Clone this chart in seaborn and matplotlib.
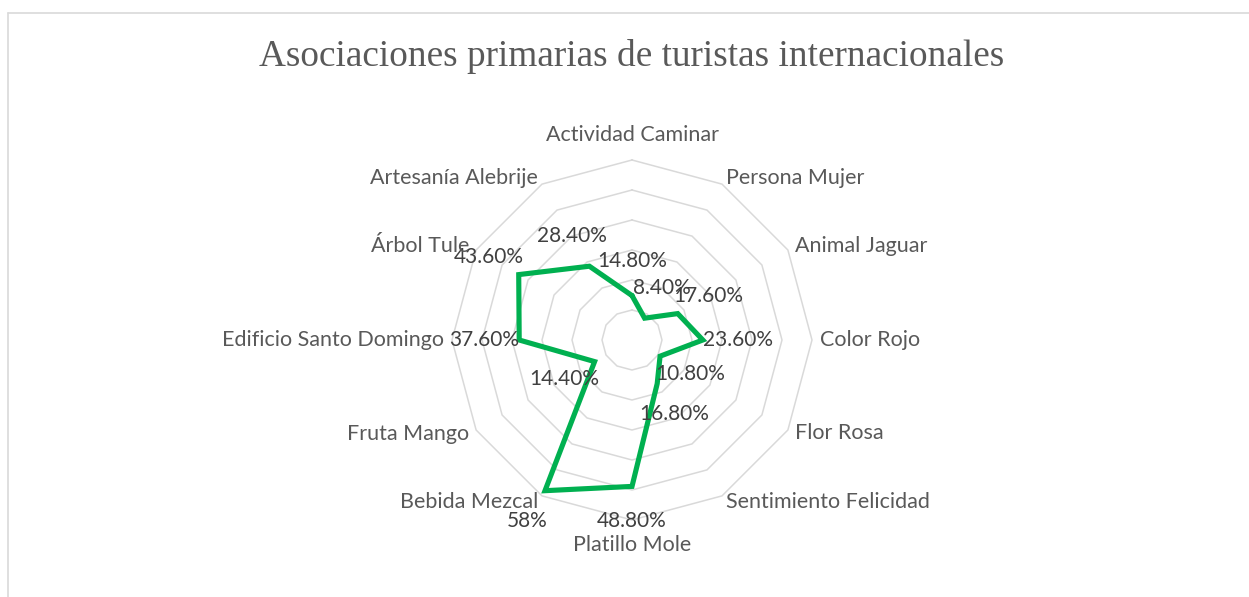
import numpy as np
import pandas as pd
import matplotlib
matplotlib.use("Agg")
import matplotlib.pyplot as plt
from matplotlib.lines import Line2D
import seaborn as sns

# Categories, clockwise from the top
categories = [
    "Actividad Caminar", "Persona Mujer", "Animal Jaguar", "Color Rojo",
    "Flor Rosa", "Sentimiento Felicidad", "Platillo Mole", "Bebida Mezcal",
    "Fruta Mango", "Edificio Santo Domingo", "Árbol Tule", "Artesanía Alebrije",
]
# Share of tourists (%) naming each association
values = [14.8, 8.4, 17.6, 23.6, 10.8, 16.8, 48.8, 58.0, 14.4, 37.6, 43.6, 28.4]
# Radial scale rings (%)
ring_levels = [10, 20, 30, 40, 50, 60]

title = "Asociaciones primarias de turistas internacionales"

GREEN = "#00B050"
GRID = "#D9D9D9"
TEXT = "#595959"

sns.set_theme(style="white")
plt.rcParams["font.family"] = ["Lato", "DejaVu Sans"]

W, H, DPI = 1249, 597, 100
fig = plt.figure(figsize=(W / DPI, H / DPI), dpi=DPI)
fig.patch.set_facecolor("white")

# Axes spanning the whole figure; 1 data unit = 3 px, centre of the web at (632, 340) px
cx, cy, ppu = 632, 340, 3.0
ax = fig.add_axes([0, 0, 1, 1])
ax.set_xlim(-cx / ppu, (W - cx) / ppu)
ax.set_ylim(-(H - cy) / ppu, cy / ppu)
ax.axis("off")

n = len(categories)
theta = 2 * np.pi * np.arange(n) / n
sin_t, cos_t = np.sin(theta), np.cos(theta)

# Polygonal rings
for lvl in ring_levels:
    rx = np.append(lvl * sin_t, lvl * sin_t[0])
    ry = np.append(lvl * cos_t, lvl * cos_t[0])
    ax.plot(rx, ry, color=GRID, lw=1.1, zorder=1, solid_joinstyle="miter")

# Data polygon
vals = np.array(values)
df = pd.DataFrame({
    "x": np.append(vals * sin_t, vals[0] * sin_t[0]),
    "y": np.append(vals * cos_t, vals[0] * cos_t[0]),
    "order": np.arange(n + 1),
})
sns.lineplot(data=df, x="x", y="y", sort=False, estimator=None, color=GREEN,
             linewidth=3.7, ax=ax, zorder=3)
for line in ax.lines[-1:]:
    line.set_solid_joinstyle("miter")


def fmt(v):
    return f"{v:.0f}%" if float(v).is_integer() else f"{v:.2f}%"


# Value labels, pushed outward along each spoke
for v, s, c in zip(values, sin_t, cos_t):
    ax.annotate(fmt(v), (v * s, v * c), xytext=(35 * s, 35 * c),
                textcoords="offset pixels", ha="center", va="center",
                fontsize=15, color="#404040", zorder=4)

# Category labels around the outer ring
rmax = ring_levels[-1]
for lab, s, c in zip(categories, sin_t, cos_t):
    if abs(s) < 1e-6:
        ha, dx, dy = "center", 0, 25 * np.sign(c)
    else:
        ha = "left" if s > 0 else "right"
        dx, dy = 8 * s, 7 * c
    ax.annotate(lab, (rmax * s, rmax * c), xytext=(dx, dy),
                textcoords="offset pixels", ha=ha, va="center",
                fontsize=15.5, color=TEXT, zorder=4)

fig.text(632 / W, 1 - 57 / H, title, ha="center", va="center",
         fontsize=26.8, color=TEXT, family=["Liberation Serif", "DejaVu Serif"])

# Chart-area border (left and top edges visible)
bx, by = 7.5 / W, 1 - 12.5 / H
fig.add_artist(Line2D([bx, bx], [0, by], transform=fig.transFigure, color=GRID, lw=1.2))
fig.add_artist(Line2D([bx, 1], [by, by], transform=fig.transFigure, color=GRID, lw=1.2))

fig.savefig("out.png", dpi=DPI, facecolor="white")
